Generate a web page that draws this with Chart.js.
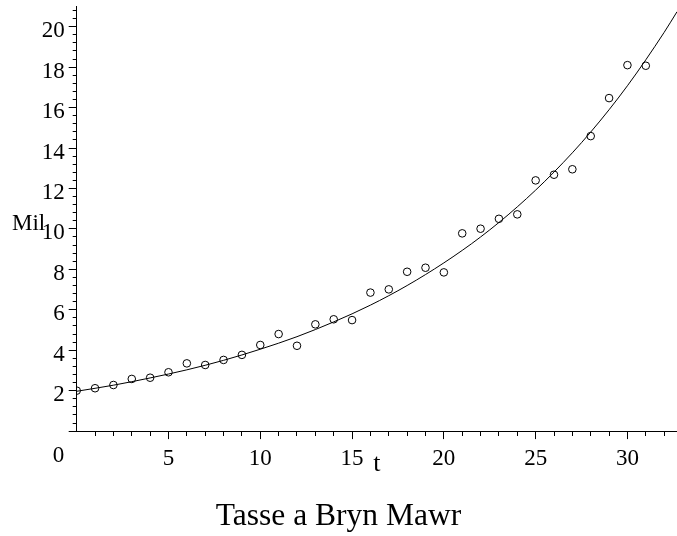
<!DOCTYPE html>
<html>
<head>
<meta charset="utf-8">
<script src="https://cdn.jsdelivr.net/npm/chart.js@4.4.1/dist/chart.umd.min.js"></script>
<style>
  html, body { margin: 0; padding: 0; background: #fff; }
  #wrap { width: 677px; height: 536px; }
</style>
</head>
<body>
<div id="wrap"><canvas id="chart" width="677" height="536"></canvas></div>
<script>
// observed values (millions) by year t
const years = [0,1,2,3,4,5,6,7,8,9,10,11,12,13,14,15,16,17,18,19,20,21,22,23,24,25,26,27,28,29,30,31];
const mil = [2.00,2.12,2.28,2.58,2.64,2.91,3.35,3.27,3.52,3.77,4.26,4.80,4.22,5.28,5.53,5.49,
             6.85,7.01,7.88,8.08,7.85,9.78,10.01,10.50,10.72,12.40,12.68,12.95,14.59,16.47,18.10,18.07];

// fitted growth curve, read at every 2 years
const fitT   = [0,2,4,6,8,10,12,14,16,18,20,22,24,26,28,30,32,32.7];
const fitMil = [1.97,2.27,2.63,3.03,3.50,4.05,4.67,5.40,6.23,7.20,8.32,9.60,11.09,12.81,14.79,17.08,19.72,20.74];

// axis labels
const xLabelTicks = [5,10,15,20,25,30];
const yLabelTicks = [2,4,6,8,10,12,14,16,18,20];
const xMinorStep = 1, yMinorStep = 0.4;
const X_MAX = 32.7, Y_MAX = 21;

const SERIF = "'Liberation Serif', 'DejaVu Serif', serif";

const xTickVals = [];
for (let v = xMinorStep; v <= X_MAX; v += xMinorStep) xTickVals.push(v);
const yTickVals = [];
for (let i = 0; i * yMinorStep <= Y_MAX - yMinorStep / 2; i++) yTickVals.push(Math.round(i * yMinorStep * 10) / 10);

const isMajor = (list, v) => list.includes(Math.round(v * 10) / 10);

// extra text: "Mil" beside the y axis and the "0" at the origin
const axisText = {
  id: 'axisText',
  afterDraw(chart) {
    const {ctx, scales: {x, y}} = chart;
    ctx.save();
    ctx.fillStyle = '#000';
    ctx.font = `23px ${SERIF}`;
    ctx.textBaseline = 'alphabetic';
    ctx.textAlign = 'left';
    ctx.fillText('Mil', 12, y.getPixelForValue(10) + 1);
    ctx.textAlign = 'right';
    ctx.textBaseline = 'middle';
    ctx.fillText('0', x.left - 12.4, y.getPixelForValue(0) + 25);
    ctx.restore();
  }
};

new Chart(document.getElementById('chart'), {
  type: 'scatter',
  data: {
    datasets: [
      {
        label: 'fit',
        data: fitT.map((t, i) => ({x: t, y: fitMil[i]})),
        showLine: true,
        borderColor: '#000',
        borderWidth: 1,
        pointRadius: 0,
        cubicInterpolationMode: 'monotone',
        fill: false
      },
      {
        label: 'Mil',
        data: years.map((t, i) => ({x: t, y: mil[i]})),
        pointStyle: 'circle',
        pointRadius: 3.8,
        borderColor: '#000',
        borderWidth: 1,
        backgroundColor: 'rgba(0,0,0,0)'
      }
    ]
  },
  options: {
    responsive: false,
    animation: false,
    devicePixelRatio: 1,
    layout: { autoPadding: false, padding: { top: 6.5, left: 0, right: 0, bottom: 0 } },
    plugins: {
      legend: { display: false },
      tooltip: { enabled: false },
      title: {
        display: true,
        position: 'bottom',
        text: 'Tasse a Bryn Mawr',
        color: '#000',
        font: { family: SERIF, size: 31.5, weight: 'normal', lineHeight: 1.2 },
        padding: { top: 6, bottom: 0 }
      }
    },
    scales: {
      x: {
        type: 'linear',
        min: 0,
        max: X_MAX,
        afterBuildTicks: s => { s.ticks = xTickVals.map(v => ({value: v})); },
        afterFit: s => { s.height = 61.1; s.paddingLeft = 0; s.paddingRight = 0; },
        border: { color: '#000', width: 1 },
        grid: {
          drawOnChartArea: false,
          tickLength: 8,
          tickColor: '#000',
          tickBorderDash: c => isMajor(xLabelTicks, c.tick.value) ? [] : [4, 20]
        },
        ticks: {
          autoSkip: false,
          maxRotation: 0,
          padding: 6,
          color: '#000',
          font: { family: SERIF, size: 23 },
          callback: v => isMajor(xLabelTicks, v) ? String(v) : ''
        },
        title: {
          display: true,
          text: 't',
          color: '#000',
          font: { family: SERIF, size: 26 },
          padding: { top: 0, bottom: 12.4 }
        }
      },
      y: {
        type: 'linear',
        min: 0,
        max: Y_MAX,
        afterBuildTicks: s => { s.ticks = yTickVals.map(v => ({value: v})); },
        afterFit: s => { s.width = 76.7; s.paddingTop = 0; s.paddingBottom = 0; },
        border: { color: '#000', width: 1 },
        grid: {
          drawOnChartArea: false,
          tickLength: 8,
          tickColor: '#000',
          tickBorderDash: c => (isMajor(yLabelTicks, c.tick.value) || c.tick.value === 0) ? [] : [0, 4, 4, 20]
        },
        ticks: {
          autoSkip: false,
          padding: 4,
          labelOffset: 4.5,
          color: '#000',
          font: { family: SERIF, size: 23 },
          callback: v => isMajor(yLabelTicks, v) ? String(v) : ''
        }
      }
    }
  },
  plugins: [axisText]
});
</script>
</body>
</html>
